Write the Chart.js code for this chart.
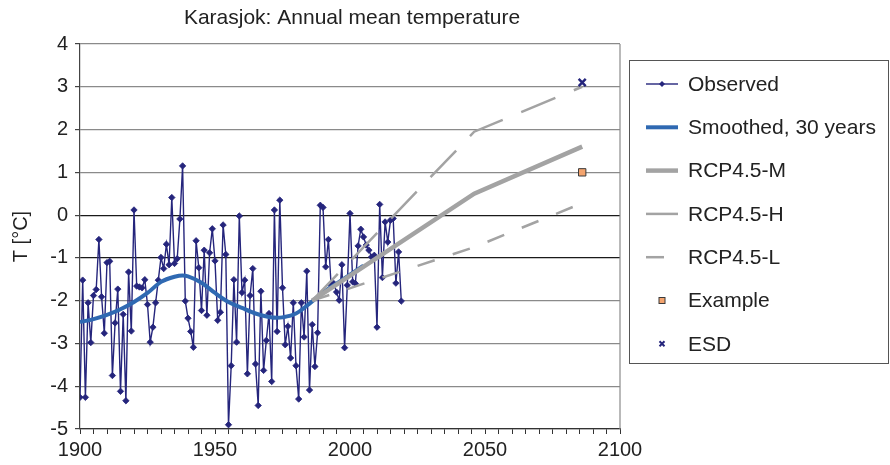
<!DOCTYPE html>
<html>
<head>
<meta charset="utf-8">
<title>Karasjok: Annual mean temperature</title>
<script src="https://cdn.jsdelivr.net/npm/chart.js@4.4.0/dist/chart.umd.min.js"></script>
<style>
    html, body { margin: 0; padding: 0; background: #ffffff; }
    #wrap { width: 890px; height: 465px; }
</style>
</head>
<body>
<div id="wrap"><canvas id="tempChart" width="890" height="465"></canvas></div>
<script>
// Observed annual means, 1900-2019
const obsStartYear = 1900;
const observed = [
    -4.26, -1.52, -4.26, -2.05, -2.98, -1.88, -1.74, -0.57, -1.91, -2.76,
    -1.11, -1.08, -3.75, -2.52, -1.73, -4.12, -2.32, -4.34, -1.33, -2.71,
     0.12, -1.66, -1.68, -1.70, -1.51, -2.09, -2.97, -2.62, -2.05, -1.52,
    -0.99, -1.25, -0.68, -1.16,  0.41, -1.13, -1.02, -0.09,  1.15, -2.01,
    -2.41, -2.72, -3.09, -0.60, -1.23, -2.23, -0.82, -2.34, -0.88, -0.32,
    -1.07, -2.46, -2.27, -0.23, -0.92, -4.90, -3.52, -1.51, -2.97, -0.02,
    -1.81, -1.52, -3.71, -1.88, -1.25, -3.48, -4.45, -1.78, -3.63, -2.93,
    -2.30, -3.89,  0.12, -2.72,  0.35, -1.70, -3.03, -2.60, -3.34, -2.05,
    -3.52, -4.30, -2.05, -2.85, -1.31, -4.09, -2.56, -3.54, -2.75,  0.23,
     0.18, -1.21, -0.57, -1.64, -1.60, -1.80, -1.99, -1.16, -3.10, -1.64,
     0.04, -1.56, -1.60, -0.72, -0.33, -0.51, -0.70, -0.82, -0.98, -0.94,
    -2.62,  0.25, -1.46, -0.16, -0.63, -0.12, -0.08, -1.59, -0.86, -2.01
];

// 30-year smoothed curve (tail runs under the RCP4.5-M line)
const smoothYears  = [1900, 1905, 1910, 1915, 1920, 1925, 1930, 1935, 1938, 1940, 1945, 1950, 1955, 1960, 1965, 1970, 1973, 1975, 1980, 1985, 1990, 1995, 2000, 2005];
const smoothValues = [-2.50, -2.43, -2.33, -2.20, -2.03, -1.82, -1.56, -1.44, -1.41, -1.43, -1.58, -1.82, -2.03, -2.17, -2.30, -2.38, -2.40, -2.39, -2.30, -2.07, -1.81, -1.60, -1.39, -1.18];

// RCP4.5 projections (period centres)
const projYears = [1986, 2046, 2086];
const rcpM = [-2.0, 0.5, 1.6];
const rcpH = [-2.0, 1.95, 3.0];
const rcpL = [-2.0, -0.75, 0.28];

const exampleYear = 2086, exampleValue = 1.0;
const esdYear = 2086, esdValue = 3.1;

const seriesLabels = ['Observed', 'Smoothed, 30 years', 'RCP4.5-M', 'RCP4.5-H', 'RCP4.5-L', 'Example', 'ESD'];

const navy = '#25257c';
const blue = '#2f69b2';
const grey = '#a3a3a3';
const fontFamily = "'Liberation Sans', Arial, sans-serif";

function pairs(xs, ys) {
    return xs.map((x, i) => ({ x: x, y: ys[i] }));
}

const observedPoints = observed.map((v, i) => ({ x: obsStartYear + i, y: v }));

// Title, right frame line and boxed legend (Excel style)
const excelFrame = {
    id: 'excelFrame',
    afterDraw(chart) {
        const ctx = chart.ctx;
        const area = chart.chartArea;
        ctx.save();

        // right edge of plot area
        ctx.strokeStyle = '#8a8a8a';
        ctx.lineWidth = 1.2;
        ctx.beginPath();
        ctx.moveTo(area.right, area.top);
        ctx.lineTo(area.right, area.bottom);
        ctx.stroke();

        // title
        ctx.fillStyle = '#222222';
        ctx.font = '21px ' + fontFamily;
        ctx.textAlign = 'center';
        ctx.textBaseline = 'middle';
        ctx.fillText('Karasjok: Annual mean temperature', (area.left + area.right) / 2 + 2, 18);

        // legend box
        ctx.strokeStyle = '#555555';
        ctx.lineWidth = 1;
        ctx.strokeRect(629.5, 60.5, 259, 303);

        const sx0 = 646, sx1 = 678, tx = 688;
        chart.data.datasets.forEach((ds, i) => {
            const y = 84 + i * 43.3;
            ctx.save();
            if (ds.showLine === false) {
                if (ds.pointStyle === 'rect') {
                    ctx.fillStyle = ds.pointBackgroundColor;
                    ctx.strokeStyle = ds.pointBorderColor;
                    ctx.lineWidth = 1;
                    ctx.fillRect(659, y - 3, 6, 6);
                    ctx.strokeRect(659, y - 3, 6, 6);
                } else {
                    ctx.strokeStyle = ds.pointBorderColor;
                    ctx.lineWidth = 2;
                    ctx.beginPath();
                    ctx.moveTo(659.5, y - 2.5); ctx.lineTo(664.5, y + 2.5);
                    ctx.moveTo(664.5, y - 2.5); ctx.lineTo(659.5, y + 2.5);
                    ctx.stroke();
                }
            } else {
                ctx.strokeStyle = ds.borderColor;
                ctx.lineWidth = ds.borderWidth;
                if (ds.borderDash) ctx.setLineDash(ds.borderDash);
                ctx.beginPath();
                ctx.moveTo(sx0, y);
                ctx.lineTo(sx1, y);
                ctx.stroke();
                if (ds.pointRadius > 0) {
                    ctx.fillStyle = ds.pointBackgroundColor;
                    ctx.beginPath();
                    ctx.moveTo(662 - 3, y); ctx.lineTo(662, y - 3);
                    ctx.lineTo(662 + 3, y); ctx.lineTo(662, y + 3);
                    ctx.closePath();
                    ctx.fill();
                }
            }
            ctx.restore();
            ctx.fillStyle = '#222222';
            ctx.font = '21px ' + fontFamily;
            ctx.textAlign = 'left';
            ctx.textBaseline = 'middle';
            ctx.fillText(ds.label, tx, y + 1);
        });
        ctx.restore();
    }
};

const chart = new Chart(document.getElementById('tempChart').getContext('2d'), {
    type: 'line',
    data: {
        datasets: [
            {
                label: seriesLabels[0],
                data: observedPoints,
                borderColor: navy,
                borderWidth: 1.4,
                pointStyle: 'rectRot',
                pointRadius: 3.2,
                pointBackgroundColor: navy,
                pointBorderColor: navy,
                pointBorderWidth: 0.8,
                tension: 0,
                order: 6
            },
            {
                label: seriesLabels[1],
                data: pairs(smoothYears, smoothValues),
                borderColor: blue,
                borderWidth: 4,
                pointRadius: 0,
                cubicInterpolationMode: 'monotone',
                order: 5
            },
            {
                label: seriesLabels[2],
                data: pairs(projYears, rcpM),
                borderColor: grey,
                borderWidth: 4.5,
                pointRadius: 0,
                order: 4
            },
            {
                label: seriesLabels[3],
                data: pairs(projYears, rcpH),
                borderColor: grey,
                borderWidth: 2.5,
                borderDash: [37, 20],
                pointRadius: 0,
                order: 3
            },
            {
                label: seriesLabels[4],
                data: pairs(projYears, rcpL),
                borderColor: grey,
                borderWidth: 2.5,
                borderDash: [18, 19],
                pointRadius: 0,
                order: 2
            },
            {
                label: seriesLabels[5],
                data: [{ x: exampleYear, y: exampleValue }],
                showLine: false,
                pointStyle: 'rect',
                pointRadius: 5.2,
                pointBackgroundColor: '#f4a46e',
                pointBorderColor: '#3a3a3a',
                pointBorderWidth: 1,
                order: 1
            },
            {
                label: seriesLabels[6],
                data: [{ x: esdYear, y: esdValue }],
                showLine: false,
                pointStyle: 'crossRot',
                pointRadius: 5,
                pointBackgroundColor: navy,
                pointBorderColor: navy,
                pointBorderWidth: 2.5,
                order: 0
            }
        ]
    },
    options: {
        responsive: false,
        animation: false,
        layout: {
            padding: { top: 44, right: 270, bottom: 0, left: 0 }
        },
        plugins: {
            legend: { display: false },
            title: { display: false },
            tooltip: { enabled: false }
        },
        scales: {
            x: {
                type: 'linear',
                min: 1900,
                max: 2100,
                afterFit: function(scale) { scale.height = 36; },
                ticks: {
                    stepSize: 5,
                    autoSkip: false,
                    maxRotation: 0,
                    padding: 4,
                    color: '#222222',
                    font: { family: fontFamily, size: 20 },
                    callback: function(v) { return v % 50 === 0 ? String(v) : ''; }
                },
                grid: {
                    drawOnChartArea: false,
                    color: '#333333',
                    tickLength: 5,
                    lineWidth: 1
                },
                border: { color: '#333333', width: 1.2 }
            },
            y: {
                min: -5,
                max: 4,
                afterFit: function(scale) { scale.width = 80; },
                ticks: {
                    stepSize: 1,
                    padding: 7,
                    color: '#222222',
                    font: { family: fontFamily, size: 20 }
                },
                grid: {
                    color: function(ctx) {
                        const v = ctx.tick ? ctx.tick.value : null;
                        return (v === 0 || v === -1) ? '#1a1a1a' : '#8a8a8a';
                    },
                    lineWidth: 1.2,
                    tickColor: '#444444',
                    tickLength: 5
                },
                border: { color: '#444444', width: 1.2 },
                title: {
                    display: true,
                    text: 'T [°C]',
                    color: '#222222',
                    font: { family: fontFamily, size: 20 },
                    padding: { top: 9, bottom: 0 }
                }
            }
        }
    },
    plugins: [excelFrame]
});
</script>
</body>
</html>
